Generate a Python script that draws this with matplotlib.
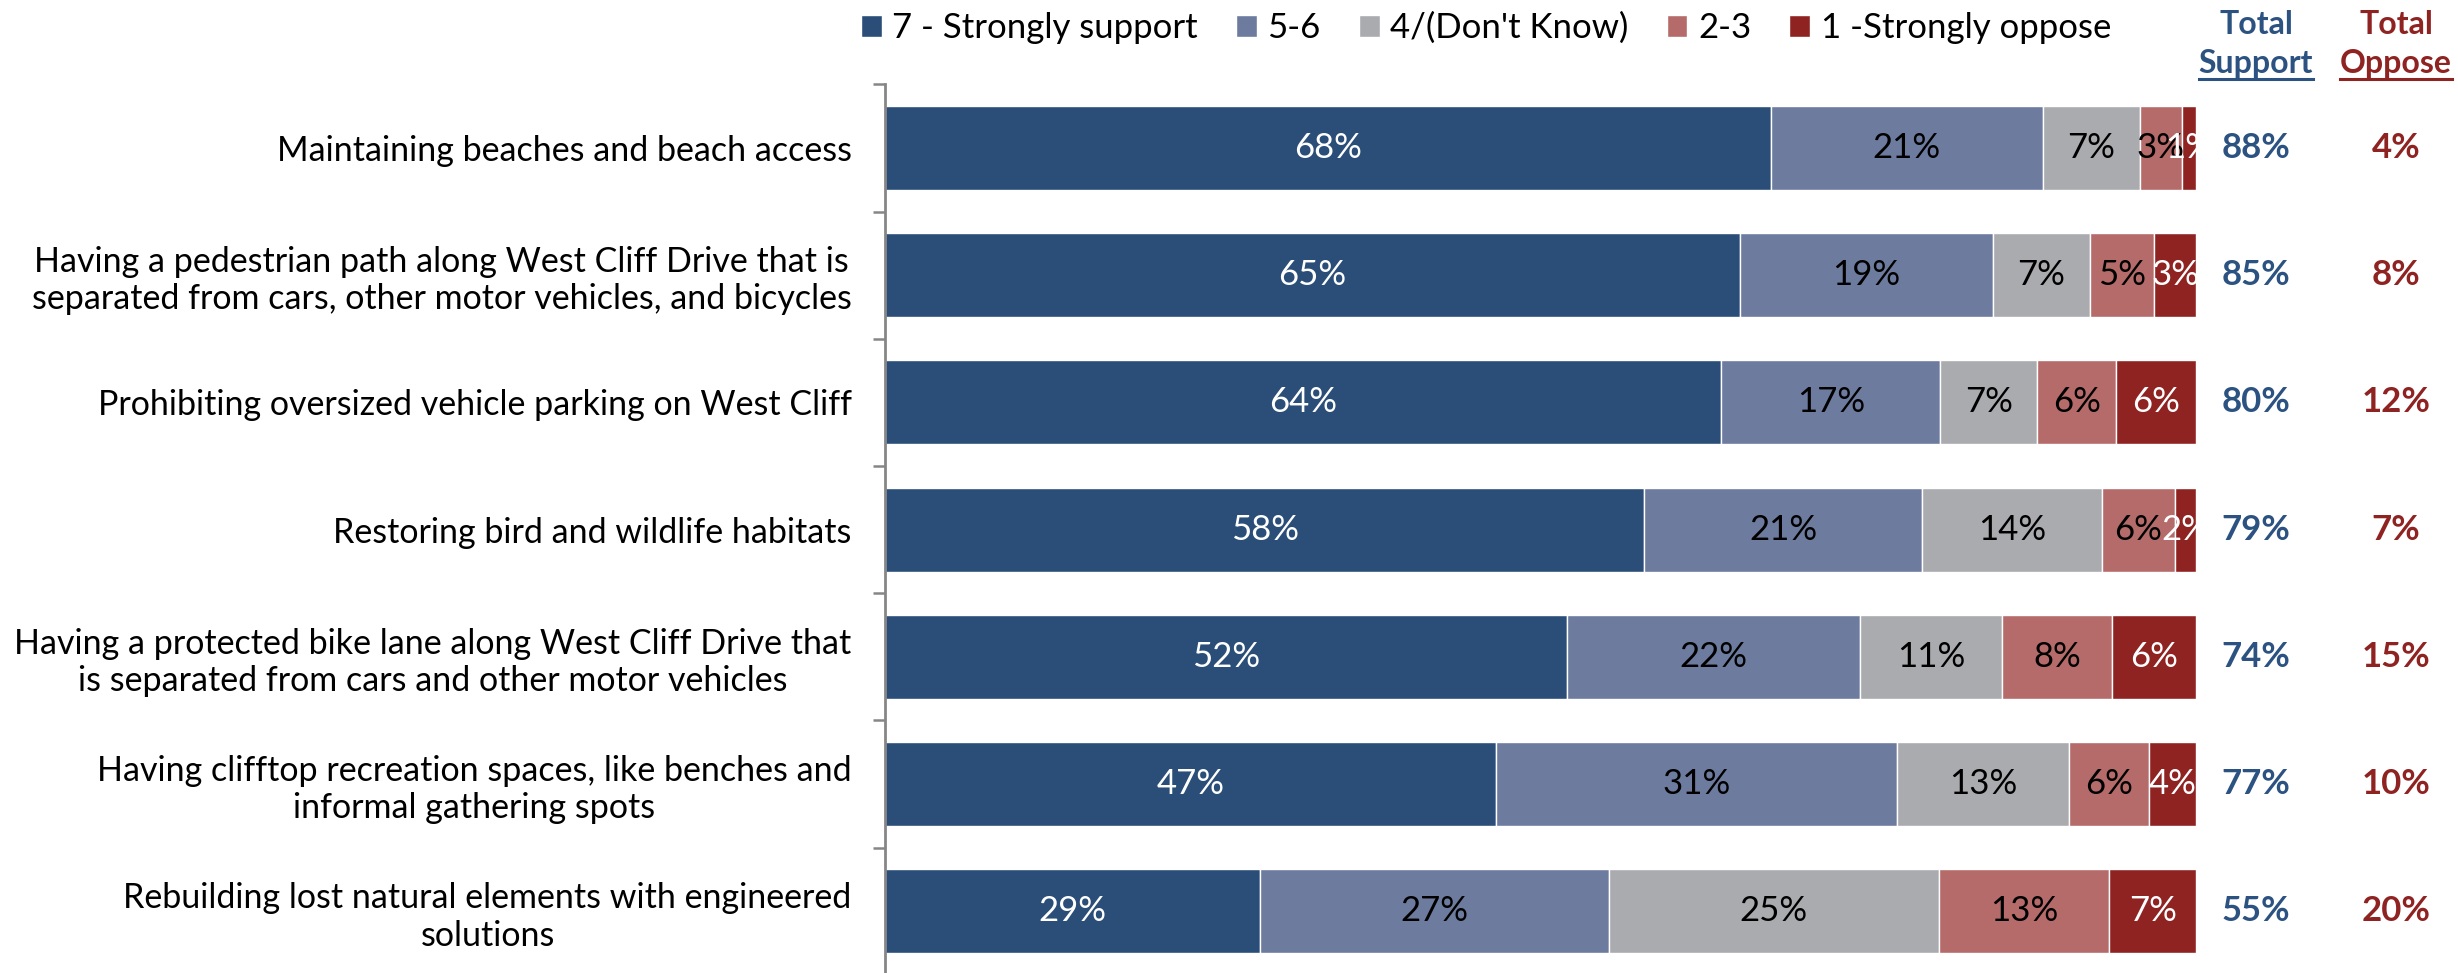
import matplotlib.pyplot as plt
from matplotlib.lines import Line2D
import numpy as np

plt.rcParams['font.family'] = ['Lato', 'DejaVu Sans']

# Survey items (top to bottom)
items = [
    "Maintaining beaches and beach access",
    "Having a pedestrian path along West Cliff Drive that is\nseparated from cars, other motor vehicles, and bicycles",
    "Prohibiting oversized vehicle parking on West Cliff",
    "Restoring bird and wildlife habitats",
    "Having a protected bike lane along West Cliff Drive that\nis separated from cars and other motor vehicles",
    "Having clifftop recreation spaces, like benches and\ninformal gathering spots",
    "Rebuilding lost natural elements with engineered\nsolutions",
]

# Response shares (%)
strong_support = [67.6, 65.2, 63.8, 57.9, 52.0, 46.6, 28.6]
support_5_6 = [20.7, 19.3, 16.7, 21.2, 22.4, 30.6, 26.6]
dont_know = [7.4, 7.4, 7.4, 13.7, 10.8, 13.1, 25.2]
oppose_2_3 = [3.2, 4.9, 6.0, 5.6, 8.4, 6.1, 13.0]
strong_oppose = [1.1, 3.2, 6.1, 1.6, 6.4, 3.6, 6.6]

total_support = [88, 85, 80, 79, 74, 77, 55]
total_oppose = [4, 8, 12, 7, 15, 10, 20]

series_names = ["7 - Strongly support", "5-6", "4/(Don't Know)", "2-3", "1 -Strongly oppose"]
series = [strong_support, support_5_6, dont_know, oppose_2_3, strong_oppose]
colors = ['#2a4e78', '#6c7b9e', '#aaabaf', '#b46b69', '#8e2322']
text_colors = ['white', 'black', 'black', 'black', 'white']

blue_txt = '#2b5280'
red_txt = '#8e2322'

fig = plt.figure(figsize=(24.58, 9.73), dpi=100)
W, H = 2458, 973
ax = fig.add_axes([885 / W, -0.002, (2196 - 885) / W, 0.9153])

y = np.arange(len(items))
left = np.zeros(len(items))
handles = []
for vals, name, c, tc in zip(series, series_names, colors, text_colors):
    bars = ax.barh(y, vals, left=left, height=0.66, color=c, edgecolor='white',
                   linewidth=1, label=name)
    handles.append(bars)
    for yi, (l, v) in enumerate(zip(left, vals)):
        ax.text(l + v / 2, yi, f"{v:.0f}%", ha='center', va='center',
                color=tc, fontsize=25)
    left = left + np.array(vals)

ax.set_xlim(0, 100)
ax.set_ylim(len(items) - 0.5, -0.5)
ax.set_yticks(y)
ax.set_yticklabels(items, fontsize=24.5)
for lbl in ax.get_yticklabels():
    lbl.set_multialignment('center')
ax.set_yticks(np.arange(-0.5, len(items)), minor=True)
ax.tick_params(axis='y', which='major', length=0, pad=24)
ax.tick_params(axis='y', which='minor', length=9, width=1.8, color='#868686')
ax.set_xticks([])
for s in ['top', 'right', 'bottom']:
    ax.spines[s].set_visible(False)
ax.spines['left'].set_color('#868686')
ax.spines['left'].set_linewidth(2)

# Total columns
x_sup = 2256 / W
x_opp = 2396 / W
for yi in y:
    fy = ax.transData.transform((0, yi))[1] / H
    fig.text(x_sup, fy, f"{total_support[yi]}%", ha='center', va='center',
             color=blue_txt, fontsize=25, fontweight='bold')
    fig.text(x_opp, fy, f"{total_oppose[yi]}%", ha='center', va='center',
             color=red_txt, fontsize=25, fontweight='bold')

hdr = []
for xx, word, c in [(x_sup, "Support", blue_txt), (x_opp, "Oppose", red_txt)]:
    fig.text(xx, 1 - 25 / H, "Total", ha='center', va='center',
             color=c, fontsize=23, fontweight='bold')
    t = fig.text(xx, 1 - 63 / H, word, ha='center', va='center',
                 color=c, fontsize=23, fontweight='bold')
    hdr.append((t, c))

fig.legend(handles=handles, loc='center', bbox_to_anchor=(1486 / W, 1 - 28 / H),
           ncol=5, frameon=False, fontsize=25, handlelength=0.6, handleheight=0.6,
           handletextpad=0.3, columnspacing=1.1)

fig.canvas.draw()
r = fig.canvas.get_renderer()
for t, c in hdr:
    bb = t.get_window_extent(r)
    yy = (H - 79) / H
    fig.add_artist(Line2D([bb.x0 / W, bb.x1 / W], [yy, yy], color=c, lw=2.2))

fig.savefig('out.png', dpi=100)
